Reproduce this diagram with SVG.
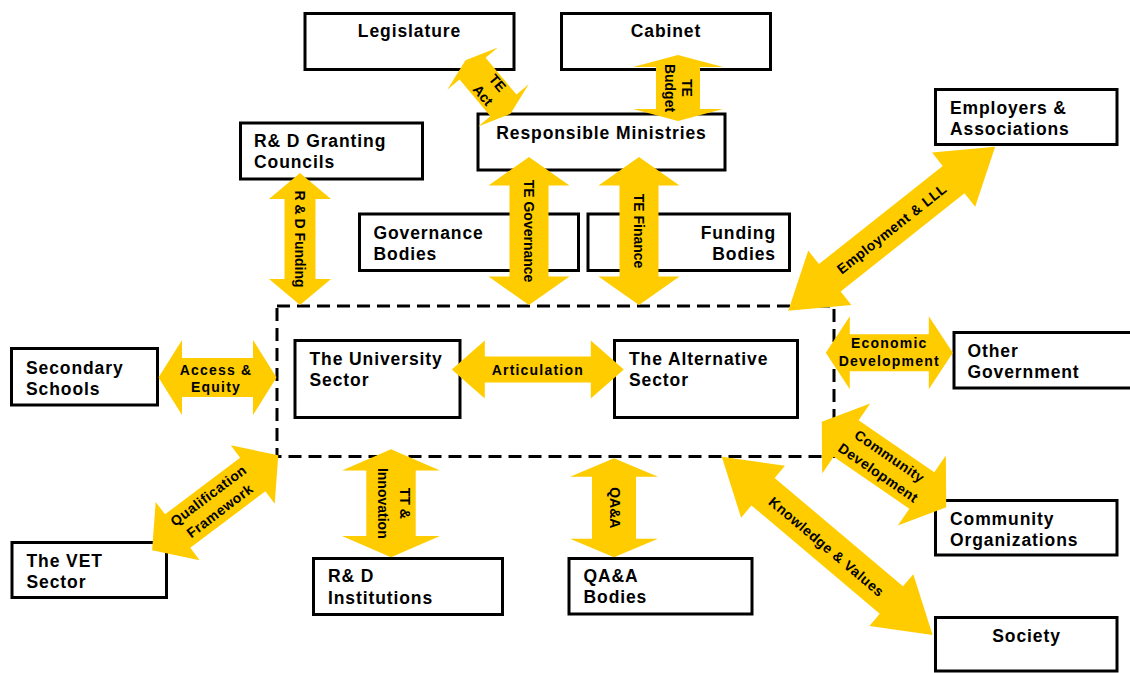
<svg xmlns="http://www.w3.org/2000/svg" width="1130" height="673" viewBox="0 0 1130 673">
  <style>
    .box { fill: #fff; stroke: #000; stroke-width: 3; }
    .lbl { font-family: "Liberation Sans", Arial, Helvetica, sans-serif; font-weight: bold; font-size: 17.5px; letter-spacing: 0.9px; fill: #000; }
    .mid { text-anchor: middle; }
    .end { text-anchor: end; }
    .arr { fill: #FFCC00; }
    .al { font-family: "Liberation Sans", Arial, Helvetica, sans-serif; font-weight: bold; font-size: 14px; fill: #000; text-anchor: middle; }
    .h { letter-spacing: 1.2px; }
    .d { letter-spacing: 0.5px; }
    .frame { fill: none; stroke: #000; stroke-width: 3; stroke-dasharray: 13 7; }
  </style>

  <!-- tertiary education system boundary -->
  <rect class="frame" x="277" y="306" width="557" height="150.5"/>

  <!-- nodes -->
  <g id="legislature">
    <rect class="box" x="305" y="13.5" width="209" height="56"/>
    <text class="lbl mid" x="409.5" y="37">Legislature</text>
  </g>
  <g id="cabinet">
    <rect class="box" x="561.5" y="13.5" width="209" height="56"/>
    <text class="lbl mid" x="666" y="37">Cabinet</text>
  </g>
  <g id="ministries">
    <rect class="box" x="478" y="114" width="247" height="56"/>
    <text class="lbl mid" x="601.5" y="138.5">Responsible Ministries</text>
  </g>
  <g id="rd-councils">
    <rect class="box" x="240.5" y="123" width="182" height="56"/>
    <text class="lbl" x="254" y="147">R&amp; D Granting</text>
    <text class="lbl" x="254" y="168">Councils</text>
  </g>
  <g id="governance-bodies">
    <rect class="box" x="359.5" y="214" width="219" height="56.5"/>
    <text class="lbl" x="373.5" y="238.5">Governance</text>
    <text class="lbl" x="373.5" y="260">Bodies</text>
  </g>
  <g id="funding-bodies">
    <rect class="box" x="588" y="214" width="201.5" height="56.5"/>
    <text class="lbl end" x="776" y="238.5">Funding</text>
    <text class="lbl end" x="776" y="260">Bodies</text>
  </g>
  <g id="employers">
    <rect class="box" x="935.5" y="89.5" width="181.5" height="55"/>
    <text class="lbl" x="950" y="114">Employers &amp;</text>
    <text class="lbl" x="950" y="134.5">Associations</text>
  </g>
  <g id="secondary-schools">
    <rect class="box" x="11.5" y="348.5" width="146" height="56.5"/>
    <text class="lbl" x="26" y="374">Secondary</text>
    <text class="lbl" x="26" y="395">Schools</text>
  </g>
  <g id="university-sector">
    <rect class="box" x="295" y="340.5" width="165" height="77"/>
    <text class="lbl" x="309.5" y="365">The University</text>
    <text class="lbl" x="309.5" y="386">Sector</text>
  </g>
  <g id="alternative-sector">
    <rect class="box" x="614.5" y="340.5" width="183" height="77"/>
    <text class="lbl" x="629" y="364.5">The Alternative</text>
    <text class="lbl" x="629" y="385.5">Sector</text>
  </g>
  <g id="other-government">
    <rect class="box" x="954" y="332.5" width="190" height="55.5"/>
    <text class="lbl" x="967.5" y="357">Other</text>
    <text class="lbl" x="967.5" y="377.5">Government</text>
  </g>
  <g id="community-organizations">
    <rect class="box" x="935.5" y="500.5" width="181.5" height="54.5"/>
    <text class="lbl" x="950" y="525">Community</text>
    <text class="lbl" x="950" y="545.5">Organizations</text>
  </g>
  <g id="vet-sector">
    <rect class="box" x="12" y="542.5" width="154.5" height="55"/>
    <text class="lbl" x="26.5" y="567">The VET</text>
    <text class="lbl" x="26.5" y="588">Sector</text>
  </g>
  <g id="rd-institutions">
    <rect class="box" x="313.5" y="558.5" width="189" height="56"/>
    <text class="lbl" x="328" y="582">R&amp; D</text>
    <text class="lbl" x="328" y="603.5">Institutions</text>
  </g>
  <g id="qaa-bodies">
    <rect class="box" x="569" y="558.5" width="183" height="55.5"/>
    <text class="lbl" x="583.5" y="582">QA&amp;A</text>
    <text class="lbl" x="583.5" y="603">Bodies</text>
  </g>
  <g id="society">
    <rect class="box" x="935.5" y="617.5" width="181.5" height="53.5"/>
    <text class="lbl mid" x="1026.5" y="642">Society</text>
  </g>

  <!-- connectors: double-headed block arrows, drawn over the boxes -->
  <g id="connectors">
    <g id="te-act" transform="translate(488,87) rotate(50)">
      <path class="arr" d="M-35 0 L-24 -33 L-24 -17 L24 -17 L24 -33 L35 0 L24 33 L24 17 L-24 17 L-24 33Z"/>
      <text class="al" x="3" y="-5">TE</text>
      <text class="al" x="3" y="14">Act</text>
    </g>
    <g id="te-budget" transform="translate(678,88) rotate(90)">
      <path class="arr" d="M-33 0 L-21 -45 L-21 -22 L21 -22 L21 -45 L33 0 L21 45 L21 22 L-21 22 L-21 45Z"/>
      <text class="al" x="0" y="-4">TE</text>
      <text class="al" x="0" y="13">Budget</text>
    </g>
    <g id="rd-funding" transform="translate(300,239) rotate(90)">
      <path class="arr" d="M-66 0 L-40 -31 L-40 -15.5 L40 -15.5 L40 -31 L66 0 L40 31 L40 15.5 L-40 15.5 L-40 31Z"/>
      <text class="al" x="0" y="5">R &amp; D Funding</text>
    </g>
    <g id="te-governance" transform="translate(529,231) rotate(90)">
      <path class="arr" d="M-74 0 L-45.5 -40.5 L-45.5 -19.5 L45.5 -19.5 L45.5 -40.5 L74 0 L45.5 40.5 L45.5 19.5 L-45.5 19.5 L-45.5 40.5Z"/>
      <text class="al" x="0" y="5">TE Governance</text>
    </g>
    <g id="te-finance" transform="translate(639,231) rotate(90)">
      <path class="arr" d="M-74 0 L-45.5 -40.5 L-45.5 -19.5 L45.5 -19.5 L45.5 -40.5 L74 0 L45.5 40.5 L45.5 19.5 L-45.5 19.5 L-45.5 40.5Z"/>
      <text class="al" x="0" y="5">TE Finance</text>
    </g>
    <g id="access-equity" transform="translate(217.5,377.5)">
      <path class="arr" d="M-59 0 L-35.5 -37.5 L-35.5 -19.5 L35.5 -19.5 L35.5 -37.5 L59 0 L35.5 37.5 L35.5 19.5 L-35.5 19.5 L-35.5 37.5Z"/>
      <text class="al h" x="-1.5" y="-2.5">Access &amp;</text>
      <text class="al h" x="-1.5" y="14.5">Equity</text>
    </g>
    <g id="articulation" transform="translate(537.8,369.5)">
      <path class="arr" d="M-86 0 L-53 -29 L-53 -13 L53 -13 L53 -29 L86 0 L53 29 L53 13 L-53 13 L-53 29Z"/>
      <text class="al h" x="0" y="5">Articulation</text>
    </g>
    <g id="economic-development" transform="translate(889.3,352.7)">
      <path class="arr" d="M-63.5 0 L-39.5 -36.5 L-39.5 -18.5 L39.5 -18.5 L39.5 -36.5 L63.5 0 L39.5 36.5 L39.5 18.5 L-39.5 18.5 L-39.5 36.5Z"/>
      <text class="al h" x="0" y="-4.5">Economic</text>
      <text class="al h" x="0" y="13.3">Development</text>
    </g>
    <g id="employment-lll" transform="translate(891.7,228.7) rotate(-38.4)">
      <path class="arr" d="M-132 0 L-79 -34.7 L-79 -17.5 L79 -17.5 L79 -34.7 L132 0 L79 34.7 L79 17.5 L-79 17.5 L-79 34.7Z"/>
      <text class="al d" x="0" y="5">Employment &amp; LLL</text>
    </g>
    <g id="community-development" transform="translate(884,464.5) rotate(34.5)">
      <path class="arr" d="M-75.5 0 L-45.9 -42.4 L-45.9 -22 L45.9 -22 L45.9 -42.4 L75.5 0 L45.9 42.4 L45.9 22 L-45.9 22 L-45.9 42.4Z"/>
      <text class="al d" x="0" y="-5">Community</text>
      <text class="al d" x="0" y="15">Development</text>
    </g>
    <g id="knowledge-values" transform="translate(827.2,545.9) rotate(40.2)">
      <path class="arr" d="M-138 0 L-84 -34 L-84 -18 L84 -18 L84 -34 L138 0 L84 34 L84 18 L-84 18 L-84 34Z"/>
      <text class="al d" x="0" y="6">Knowledge &amp; Values</text>
    </g>
    <g id="qualification-framework" transform="translate(215.2,502.8) rotate(-37)">
      <path class="arr" d="M-79 0 L-47 -36.5 L-47 -21 L47 -21 L47 -36.5 L79 0 L47 36.5 L47 21 L-47 21 L-47 36.5Z"/>
      <text class="al d" x="-1" y="-5">Qualification</text>
      <text class="al d" x="-1" y="14">Framework</text>
    </g>
    <g id="tt-innovation" transform="translate(391,503.3) rotate(90)">
      <path class="arr" d="M-54 0 L-32.7 -49 L-32.7 -24.7 L32.7 -24.7 L32.7 -49 L54 0 L32.7 49 L32.7 24.7 L-32.7 24.7 L-32.7 49Z"/>
      <text class="al" x="0" y="-9">TT &amp;</text>
      <text class="al" x="0" y="13">Innovation</text>
    </g>
    <g id="qaa" transform="translate(614,507.8) rotate(90)">
      <path class="arr" d="M-49.5 0 L-31 -44 L-31 -22 L31 -22 L31 -44 L49.5 0 L31 44 L31 22 L-31 22 L-31 44Z"/>
      <text class="al" x="0" y="4">QA&amp;A</text>
    </g>
  </g>
</svg>
